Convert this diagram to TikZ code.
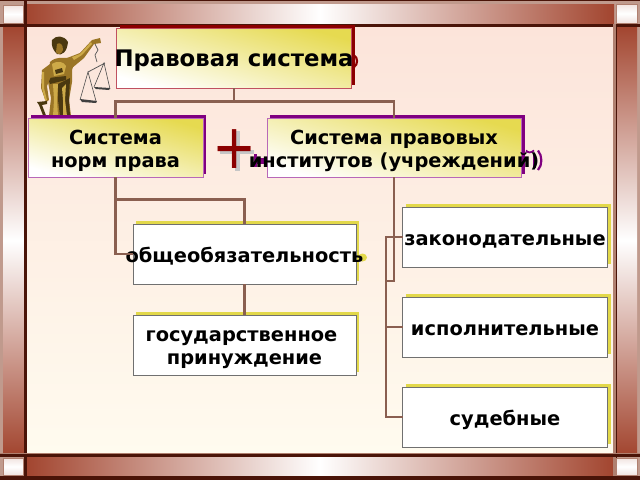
\documentclass[tikz,border=0pt]{standalone}
\usepackage{fontspec}
\setmainfont{DejaVu Sans}
\usetikzlibrary{calc}
\definecolor{barred}{HTML}{A2452F}
\definecolor{frameD}{HTML}{4A1408}
\definecolor{frameT}{HTML}{B08070}
\definecolor{bgtop}{HTML}{FCE4DA}
\definecolor{bgbot}{HTML}{FFFBEF}
\definecolor{boxY}{HTML}{E6DA50}
\definecolor{connC}{HTML}{8A5F50}
\definecolor{shRed}{HTML}{8B0000}
\definecolor{shPur}{HTML}{800080}
\definecolor{shYel}{HTML}{E2D84A}
\definecolor{bRed}{HTML}{C05060}
\definecolor{bPur}{HTML}{B868B8}
\definecolor{bGray}{HTML}{707070}
\definecolor{gold}{HTML}{9A7526}
\definecolor{goldD}{HTML}{4A3810}
\definecolor{goldL}{HTML}{CDAA48}
\newcommand{\ovr}[1]{\raisebox{-3.5pt}[\height][\depth]{\makebox[0pt]{\begin{tabular}{@{}c@{}}#1\end{tabular}}}}
\tikzset{
  x=1pt,y=-1pt,
  txtbig/.style={font=\fontsize{22.8}{23}\selectfont\bfseries},
  txtmid/.style={font=\fontsize{19.4}{23}\selectfont\bfseries},
  basebox/.style={rectangle,inner sep=0pt,outer sep=0pt,text=black,line width=1pt},
  gradbox/.style={basebox,shading=axis,bottom color=white,middle color=boxY!30!white,top color=boxY,shading angle=-16},
  titlebox/.style={gradbox,draw=bRed,minimum width=235pt,minimum height=60pt,txtbig},
  sysbox/.style={gradbox,draw=bPur,minimum height=59pt,txtmid},
  leafbox/.style={basebox,fill=white,draw=bGray,minimum height=60pt,txtmid},
  conn/.style={draw=connC,line width=2.4pt},
  vbar/.style={shading=axis,top color=barred,bottom color=barred,middle color=white},
  corner/.style={shading=axis,top color=white!85!barred,bottom color=white!85!barred,middle color=white,draw=frameT,line width=.6pt},
  edgeD/.style={fill=frameD},
  edgeT/.style={fill=frameT},
}
\begin{document}
\begin{tikzpicture}
\useasboundingbox (0,0) rectangle (640,480);
% background and frame
\fill[frameT!80!white] (0,0) rectangle (640,480);
\shade[top color=bgtop,bottom color=bgbot] (26,26) rectangle (614,455);
\shade[shading=axis,left color=barred,right color=white] (26,4) rectangle (320,23);
\shade[shading=axis,left color=white,right color=barred] (320,4) rectangle (614,23);
\shade[shading=axis,left color=barred,right color=white] (26,457) rectangle (320,476);
\shade[shading=axis,left color=white,right color=barred] (320,457) rectangle (614,476);
\shade[vbar] (3,26) rectangle (24,455);
\shade[vbar] (616,26) rectangle (637,455);
\fill[edgeD] (0,23.5) rectangle (640,26.5);
\fill[edgeD] (24,0) rectangle (27,480);
\fill[edgeT] (613,24) rectangle (615.5,480);
\fill[edgeD] (615.5,23.5) rectangle (616.5,480);
\fill[edgeD] (0,454) rectangle (640,457);
\fill[edgeT] (0,453) rectangle (640,454);
\fill[edgeD] (0,476) rectangle (640,480);
\fill[edgeD] (0,0) rectangle (640,1);
\shade[corner] (3,5) rectangle (23,23);
\shade[corner] (616,4) rectangle (637,23);
\shade[corner] (3,458) rectangle (23,475);
\shade[corner] (616,458) rectangle (637,475);
% statue
\fill[goldD] (52,40) .. controls (56,35) and (64,35) .. (68,42) .. controls (67,52) and (62,56) .. (57,54) .. controls (53,50) and (51,46) .. (52,40) -- cycle;
\fill[gold] (57,44) .. controls (60,42) and (63,44) .. (63,50) .. controls (61,55) and (58,55) .. (56,52) -- cycle;
\fill[gold] (50,62) .. controls (56,56) and (64,58) .. (70,58) -- (76,58) -- (72,70) -- (72,82) -- (69,100) -- (71,116) -- (49,116) -- (51,98) -- (48,82) -- cycle;
\fill[goldD] (58,84) -- (70,78) -- (69,100) -- (70,116) -- (60,116) -- (58,100) -- cycle;
\fill[goldL] (52,64) .. controls (58,60) and (64,62) .. (66,66) -- (64,74) -- (54,76) -- cycle;
\fill[goldD] (55,70) -- (62,68) -- (63,72) -- (56,74) -- cycle;
\fill[goldL] (53,84) -- (58,84) -- (57,100) -- (58,116) -- (53,116) -- (54,100) -- cycle;
\fill[goldL] (62,88) -- (66,84) -- (65,100) -- (67,116) -- (63,116) -- (63,100) -- cycle;
\fill[goldD] (48,78) -- (66,76) -- (66,80) -- (50,84) -- cycle;
\fill[gold] (50,64) -- (42,70) -- (41,88) -- (46,102) -- (49,100) -- (47,86) -- (52,74) -- cycle;
\fill[goldL] (42,72) -- (44,72) -- (44,88) -- (47,100) -- (45,100) -- (42,88) -- cycle;
\fill[gold] (67,58) -- (80,53) -- (92,40) -- (100,38) -- (101,43) -- (94,44) -- (84,58) -- (72,68) -- cycle;
\fill[goldL] (72,57) -- (80,54) -- (91,42) -- (92,44) -- (82,55) -- (74,60) -- cycle;
\fill[goldD] (37,102) -- (47,101) -- (47,104) -- (42,105) -- (47,118) -- (44,118) -- (39,105) -- cycle;
\draw[gray!70!black,line width=.7pt] (95,44) -- (98,50) -- (95,55) -- (97,62);
\draw[gray!70!black,line width=.8pt] (88,72) -- (105,63);
\draw[gray!60!black,line width=.6pt] (80,100) -- (88,72) -- (96,101);
\draw[gray!60!black,line width=.6pt] (94,87) -- (104,63) -- (110,89);
\fill[gray!50!black] (80,99) -- (97,101) -- (96,103) -- (82,102) -- cycle;
\fill[gray!50!black] (94,87) -- (110,88) -- (109,90) -- (96,89) -- cycle;
% shadows of the boxes, with the parts of the shadowed letters that stick out
\fill[shRed] (119.5,25) rectangle (354.5,85);
\fill[shPur] (31,115) rectangle (206,174);
\fill[shPur] (270,115) rectangle (525,174);
\fill[shYel] (136,221) rectangle (359,281);
\fill[shYel] (136,312) rectangle (359,372);
\fill[shYel] (405.5,204) rectangle (610.5,264);
\fill[shYel] (405.5,294) rectangle (610.5,354);
\fill[shYel] (405.5,384) rectangle (610.5,444);
\draw[shRed,line width=2.2pt] (354,55.5) .. controls (358,57) and (358,65) .. (354,67);
\draw[shPur,line width=2.2pt] (538,150.5) .. controls (542.5,156) and (542.5,165) .. (538,170);
\draw[shPur,line width=1.8pt] (526,150.5) .. controls (528,153) and (531,153) .. (534,150.5);
\fill[shPur] (533,155) rectangle (536,168);
\fill[shPur] (253.5,154) rectangle (257,167);
\fill[shPur] (257,158) rectangle (267,164);
\fill[shYel] (362.5,257.5) circle[x radius=4.5pt,y radius=4pt];
% coordinates of the connector bends
\coordinate (busTop) at (234,101.5);
\coordinate (busLeft) at (115.5,199.5);
\coordinate (busRightA) at (394,281);
\coordinate (busRightB) at (386,281);
% boxes
\node[titlebox] (top) at (234,58) {\ovr{Правовая система}};
\node[sysbox,minimum width=175pt] (norm) at (115.5,147.5) {\ovr{Система\\норм права}};
\node[sysbox,minimum width=254pt] (inst) at (394,147.5) {\ovr{Система правовых\\институтов (учреждений)}};
\node[leafbox,minimum width=223pt] (obsh) at (244.5,254) {\ovr{общеобязательность}};
\node[leafbox,minimum width=223pt] (gos) at (244.5,345) {\ovr{государственное\kern6pt\\принуждение}};
\node[leafbox,minimum width=205pt] (zak) at (505,237) {\ovr{законодательные}};
\node[leafbox,minimum width=205pt] (isp) at (505,327) {\ovr{исполнительные}};
\node[leafbox,minimum width=205pt] (sud) at (505,417) {\ovr{судебные}};
% connectors
\draw[conn] (top.south) -- (busTop);
\draw[conn] (busTop) -| (norm.north);
\draw[conn] (busTop) -| (inst.north);
\draw[conn] (norm.south) |- (obsh.west);
\draw[conn] (busLeft) -| (obsh.north);
\draw[conn] (obsh.south) -- (gos.north);
\draw[conn] (inst.south) -- (busRightA) -- (busRightB);
\draw[conn] (zak.west) -| (busRightB);
\draw[conn] (isp.west) -| (busRightB);
\draw[conn] (sud.west) -| (busRightB);
% plus sign
\fill[gray!45] (220,149.5) rectangle (254,153.5);
\fill[gray!45] (235,131) rectangle (239.5,171);
\node[inner sep=0pt,text=shRed,font=\fontsize{62}{62}\selectfont] (plus) at (235,149) {\scalebox{.85}[1]{+}};
\end{tikzpicture}
\end{document}
